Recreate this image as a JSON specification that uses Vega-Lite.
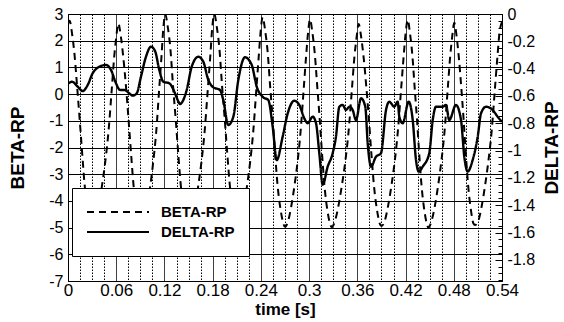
{
  "$schema": "https://vega.github.io/schema/vega-lite/v6.json",
  "width": 434,
  "height": 267,
  "autosize": "none",
  "padding": {"left": 68, "top": 14, "right": 62, "bottom": 41},
  "background": "white",
  "config": {
    "font": "Liberation Sans",
    "view": {"stroke": "black", "strokeWidth": 1},
    "axis": {"domainColor": "black", "labelColor": "black", "titleColor": "black", "labelFont": "Liberation Sans", "titleFont": "Liberation Sans"}
  },
  "datasets": {
    "beta": [
      {"t": 0, "v": 2.65}, {"t": 0.002, "v": 2.75},
      {"t": 0.0051, "v": 2.25}, {"t": 0.0082, "v": 1.45}, {"t": 0.0113, "v": 0.3}, {"t": 0.0144, "v": -0.9}, {"t": 0.0176, "v": -2.2}, {"t": 0.0207, "v": -3.4}, {"t": 0.0248, "v": -4.4}, {"t": 0.0279, "v": -4.85}, {"t": 0.030, "v": -5.0},
      {"t": 0.0341, "v": -4.75}, {"t": 0.0382, "v": -4.2}, {"t": 0.0422, "v": -3.45}, {"t": 0.0463, "v": -2.55}, {"t": 0.0504, "v": -1.4}, {"t": 0.0545, "v": 0.2}, {"t": 0.0575, "v": 1.4}, {"t": 0.0601, "v": 2.15}, {"t": 0.0626, "v": 2.65},
      {"t": 0.0658, "v": 2.15}, {"t": 0.0689, "v": 1.35}, {"t": 0.0721, "v": 0.3}, {"t": 0.0752, "v": -0.9}, {"t": 0.0784, "v": -2.2}, {"t": 0.0815, "v": -3.4}, {"t": 0.0857, "v": -4.4}, {"t": 0.0889, "v": -4.85}, {"t": 0.091, "v": -5.0},
      {"t": 0.0948, "v": -4.75}, {"t": 0.0985, "v": -4.2}, {"t": 0.1023, "v": -3.45}, {"t": 0.106, "v": -2.55}, {"t": 0.1098, "v": -1.4}, {"t": 0.1135, "v": 0.2}, {"t": 0.1163, "v": 1.4}, {"t": 0.1187, "v": 2.5}, {"t": 0.121, "v": 3.0},
      {"t": 0.1242, "v": 2.5}, {"t": 0.1274, "v": 1.7}, {"t": 0.1307, "v": 0.3}, {"t": 0.1339, "v": -0.9}, {"t": 0.1371, "v": -2.2}, {"t": 0.1403, "v": -3.4}, {"t": 0.1446, "v": -4.4}, {"t": 0.1479, "v": -4.85}, {"t": 0.150, "v": -5.0},
      {"t": 0.154, "v": -4.75}, {"t": 0.158, "v": -4.2}, {"t": 0.162, "v": -3.45}, {"t": 0.166, "v": -2.55}, {"t": 0.170, "v": -1.4}, {"t": 0.174, "v": 0.2}, {"t": 0.177, "v": 1.4}, {"t": 0.1795, "v": 2.5}, {"t": 0.182, "v": 3.0},
      {"t": 0.1852, "v": 2.5}, {"t": 0.1884, "v": 1.7}, {"t": 0.1917, "v": 0.3}, {"t": 0.1949, "v": -0.9}, {"t": 0.1981, "v": -2.2}, {"t": 0.2013, "v": -3.4}, {"t": 0.2056, "v": -4.4}, {"t": 0.2089, "v": -4.85}, {"t": 0.211, "v": -5.0},
      {"t": 0.2149, "v": -4.75}, {"t": 0.2188, "v": -4.2}, {"t": 0.2227, "v": -3.45}, {"t": 0.2266, "v": -2.55}, {"t": 0.2305, "v": -1.4}, {"t": 0.2344, "v": 0.2}, {"t": 0.2373, "v": 1.4}, {"t": 0.2398, "v": 2.38}, {"t": 0.2422, "v": 2.88},
      {"t": 0.2453, "v": 2.38}, {"t": 0.2484, "v": 1.58}, {"t": 0.2515, "v": 0.3}, {"t": 0.2546, "v": -0.9}, {"t": 0.2576, "v": -2.2}, {"t": 0.2607, "v": -3.4}, {"t": 0.2649, "v": -4.4}, {"t": 0.2679, "v": -4.85}, {"t": 0.270, "v": -4.97},
      {"t": 0.2739, "v": -4.75}, {"t": 0.2778, "v": -4.2}, {"t": 0.2817, "v": -3.45}, {"t": 0.2856, "v": -2.55}, {"t": 0.2894, "v": -1.4}, {"t": 0.2933, "v": 0.2}, {"t": 0.2962, "v": 1.4}, {"t": 0.2987, "v": 2.3}, {"t": 0.3011, "v": 2.8},
      {"t": 0.3041, "v": 2.3}, {"t": 0.3071, "v": 1.5}, {"t": 0.3101, "v": 0.3}, {"t": 0.3131, "v": -0.9}, {"t": 0.316, "v": -2.2}, {"t": 0.319, "v": -3.4}, {"t": 0.323, "v": -4.4}, {"t": 0.326, "v": -4.85}, {"t": 0.328, "v": -4.98},
      {"t": 0.3322, "v": -4.75}, {"t": 0.3364, "v": -4.2}, {"t": 0.3406, "v": -3.45}, {"t": 0.3449, "v": -2.55}, {"t": 0.3491, "v": -1.4}, {"t": 0.3533, "v": 0.2}, {"t": 0.3564, "v": 1.4}, {"t": 0.3591, "v": 2.13}, {"t": 0.3617, "v": 2.63},
      {"t": 0.3648, "v": 2.13}, {"t": 0.368, "v": 1.33}, {"t": 0.3711, "v": 0.3}, {"t": 0.3743, "v": -0.9}, {"t": 0.3774, "v": -2.2}, {"t": 0.3806, "v": -3.4}, {"t": 0.3848, "v": -4.4}, {"t": 0.3879, "v": -4.85}, {"t": 0.390, "v": -4.94},
      {"t": 0.3941, "v": -4.75}, {"t": 0.3982, "v": -4.2}, {"t": 0.4023, "v": -3.45}, {"t": 0.4064, "v": -2.55}, {"t": 0.4104, "v": -1.4}, {"t": 0.4145, "v": 0.2}, {"t": 0.4176, "v": 1.4}, {"t": 0.4201, "v": 2.28}, {"t": 0.4227, "v": 2.78},
      {"t": 0.4255, "v": 2.28}, {"t": 0.4284, "v": 1.48}, {"t": 0.4312, "v": 0.3}, {"t": 0.4341, "v": -0.9}, {"t": 0.4369, "v": -2.2}, {"t": 0.4398, "v": -3.4}, {"t": 0.4436, "v": -4.4}, {"t": 0.4464, "v": -4.85}, {"t": 0.4483, "v": -5.0},
      {"t": 0.4523, "v": -4.75}, {"t": 0.4564, "v": -4.2}, {"t": 0.4604, "v": -3.45}, {"t": 0.4644, "v": -2.55}, {"t": 0.4685, "v": -1.4}, {"t": 0.4725, "v": 0.2}, {"t": 0.4755, "v": 1.4}, {"t": 0.4781, "v": 2.17}, {"t": 0.4806, "v": 2.67},
      {"t": 0.4835, "v": 2.17}, {"t": 0.4863, "v": 1.37}, {"t": 0.4892, "v": 0.3}, {"t": 0.4921, "v": -0.9}, {"t": 0.4949, "v": -2.2}, {"t": 0.4978, "v": -3.4}, {"t": 0.5016, "v": -4.4}, {"t": 0.5045, "v": -4.85}, {"t": 0.5064, "v": -4.9},
      {"t": 0.5105, "v": -4.75}, {"t": 0.5147, "v": -4.2}, {"t": 0.5188, "v": -3.45}, {"t": 0.5229, "v": -2.55}, {"t": 0.5271, "v": -1.4}, {"t": 0.5312, "v": 0.2}, {"t": 0.5343, "v": 1.4}, {"t": 0.5369, "v": 2.3}, {"t": 0.54, "v": 2.7}
    ],
    "delta": [
      {"t": 0, "v": -0.51}, {"t": 0.005, "v": -0.496}, {"t": 0.0121, "v": -0.532}, {"t": 0.0183, "v": -0.564}, {"t": 0.0245, "v": -0.52},
      {"t": 0.0307, "v": -0.434}, {"t": 0.0389, "v": -0.386}, {"t": 0.0473, "v": -0.373}, {"t": 0.0535, "v": -0.41}, {"t": 0.0597, "v": -0.507},
      {"t": 0.0647, "v": -0.556}, {"t": 0.070, "v": -0.556}, {"t": 0.0763, "v": -0.581}, {"t": 0.0805, "v": -0.598}, {"t": 0.0855, "v": -0.581},
      {"t": 0.0908, "v": -0.459}, {"t": 0.097, "v": -0.313}, {"t": 0.1033, "v": -0.239}, {"t": 0.1086, "v": -0.276}, {"t": 0.1136, "v": -0.41},
      {"t": 0.1186, "v": -0.496}, {"t": 0.126, "v": -0.507}, {"t": 0.1323, "v": -0.569}, {"t": 0.1365, "v": -0.63}, {"t": 0.1393, "v": -0.659},
      {"t": 0.1477, "v": -0.556}, {"t": 0.1539, "v": -0.386}, {"t": 0.1621, "v": -0.313}, {"t": 0.1683, "v": -0.349}, {"t": 0.1746, "v": -0.483},
      {"t": 0.1808, "v": -0.537}, {"t": 0.1891, "v": -0.556}, {"t": 0.1932, "v": -0.63}, {"t": 0.1994, "v": -0.813}, {"t": 0.2057, "v": -0.752},
      {"t": 0.2119, "v": -0.483}, {"t": 0.2202, "v": -0.317}, {"t": 0.2286, "v": -0.373}, {"t": 0.2348, "v": -0.532}, {"t": 0.243, "v": -0.61},
      {"t": 0.2492, "v": -0.63}, {"t": 0.2547, "v": -0.825}, {"t": 0.2597, "v": -1.07}, {"t": 0.2671, "v": -0.898}, {"t": 0.2734, "v": -0.727},
      {"t": 0.2816, "v": -0.635}, {"t": 0.2878, "v": -0.666}, {"t": 0.294, "v": -0.764}, {"t": 0.2982, "v": -0.8}, {"t": 0.3045, "v": -0.752},
      {"t": 0.3086, "v": -0.8}, {"t": 0.3127, "v": -1.02}, {"t": 0.3169, "v": -1.25}, {"t": 0.3231, "v": -1.118}, {"t": 0.3293, "v": -1.02},
      {"t": 0.3334, "v": -0.898}, {"t": 0.3376, "v": -0.679}, {"t": 0.3418, "v": -0.666}, {"t": 0.3459, "v": -0.703}, {"t": 0.35, "v": -0.679},
      {"t": 0.3542, "v": -0.703}, {"t": 0.3583, "v": -0.776}, {"t": 0.3646, "v": -0.617}, {"t": 0.3699, "v": -0.679}, {"t": 0.3729, "v": -0.947},
      {"t": 0.377, "v": -1.118}, {"t": 0.3832, "v": -1.045}, {"t": 0.3894, "v": -1.02}, {"t": 0.3957, "v": -0.703}, {"t": 0.3998, "v": -0.642},
      {"t": 0.406, "v": -0.679}, {"t": 0.4102, "v": -0.642}, {"t": 0.4122, "v": -0.752}, {"t": 0.4164, "v": -0.8}, {"t": 0.4239, "v": -0.642},
      {"t": 0.4289, "v": -0.776}, {"t": 0.433, "v": -1.069}, {"t": 0.4364, "v": -1.154}, {"t": 0.4413, "v": -1.118}, {"t": 0.4495, "v": -1.02},
      {"t": 0.4538, "v": -0.776}, {"t": 0.4579, "v": -0.679}, {"t": 0.4662, "v": -0.679}, {"t": 0.4703, "v": -0.666}, {"t": 0.4744, "v": -0.776},
      {"t": 0.4827, "v": -0.666}, {"t": 0.489, "v": -0.776}, {"t": 0.4931, "v": -1.045}, {"t": 0.4973, "v": -1.154}, {"t": 0.5035, "v": -1.069},
      {"t": 0.5098, "v": -0.898}, {"t": 0.5139, "v": -0.727}, {"t": 0.5201, "v": -0.679}, {"t": 0.5284, "v": -0.703}, {"t": 0.5346, "v": -0.752},
      {"t": 0.54, "v": -0.79}
    ]
  },
  "encoding": {
    "x": {
      "field": "t",
      "type": "quantitative",
      "scale": {"domain": [0, 0.54], "nice": false, "zero": false},
      "axis": {
        "title": "time [s]",
        "values": [0, 0.015, 0.03, 0.045, 0.06, 0.075, 0.09, 0.105, 0.12, 0.135, 0.15, 0.165, 0.18, 0.195, 0.21, 0.225, 0.24, 0.255, 0.27, 0.285, 0.3, 0.315, 0.33, 0.345, 0.36, 0.375, 0.39, 0.405, 0.42, 0.435, 0.45, 0.465, 0.48, 0.495, 0.51, 0.525, 0.54],
        "format": "~g",
        "labelExpr": "round(datum.value * 1000) % 60 === 0 ? datum.label : ''",
        "labelFontSize": 17,
        "labelFlush": false,
        "labelOverlap": false,
        "labelPadding": 1,
        "ticks": false,
        "grid": true,
        "gridColor": "black",
        "gridOpacity": 1,
        "gridWidth": 1,
        "gridDash": {"condition": {"test": "round(datum.value * 1000) % 60 === 0", "value": [1, 0]}, "value": [1.5, 1.5]},
        "titleFontSize": 17,
        "titleFontWeight": "bold",
        "titlePadding": 3
      }
    }
  },
  "layer": [
    {
      "data": {"name": "beta"},
      "mark": {"type": "line", "interpolate": "monotone", "color": "black", "strokeWidth": 2, "clip": true},
      "encoding": {
        "y": {
          "field": "v",
          "type": "quantitative",
          "scale": {"domain": [-7, 3], "nice": false, "zero": false},
          "axis": {
            "orient": "left",
            "title": "BETA-RP",
            "values": [-7, -6, -5, -4, -3, -2, -1, 0, 1, 2, 3],
            "labelExpr": "'' + datum.value",
            "labelFontSize": 16,
            "labelPadding": 5,
            "ticks": false,
            "grid": true,
            "gridColor": "black",
            "gridOpacity": 1,
            "gridWidth": 1,
            "titleFontSize": 19,
            "titleFontWeight": "bold",
            "titlePadding": 21
          }
        },
        "strokeDash": {
          "datum": "BETA-RP",
          "type": "nominal",
          "scale": {"domain": ["BETA-RP", "DELTA-RP"], "range": [[7, 5], [1, 0]]},
          "legend": {
            "orient": "none",
            "legendX": 4,
            "legendY": 174,
            "title": null,
            "fillColor": "white",
            "strokeColor": "black",
            "padding": 14,
            "symbolType": "stroke",
            "symbolSize": 3844,
            "symbolStrokeWidth": 2,
            "symbolStrokeColor": "black",
            "labelFont": "Liberation Sans",
            "labelFontSize": 15,
            "labelFontWeight": "bold",
            "labelColor": "black",
            "labelOffset": 11,
            "clipHeight": 20,
            "rowPadding": -2.6
          }
        }
      }
    },
    {
      "data": {"name": "delta"},
      "mark": {"type": "line", "interpolate": "monotone", "color": "black", "strokeWidth": 2.4, "clip": true},
      "encoding": {
        "y": {
          "field": "v",
          "type": "quantitative",
          "scale": {"domain": [-1.955, 0], "nice": false, "zero": false},
          "axis": {
            "orient": "right",
            "title": "DELTA-RP",
            "values": [0, -0.05, -0.1, -0.15, -0.2, -0.25, -0.3, -0.35, -0.4, -0.45, -0.5, -0.55, -0.6, -0.65, -0.7, -0.75, -0.8, -0.85, -0.9, -0.95, -1, -1.05, -1.1, -1.15, -1.2, -1.25, -1.3, -1.35, -1.4, -1.45, -1.5, -1.55, -1.6, -1.65, -1.7, -1.75, -1.8, -1.85, -1.9, -1.95],
            "labelExpr": "abs(round(datum.value * 100)) % 20 === 0 ? '' + datum.value : ''",
            "labelFontSize": 16,
            "labelOverlap": false,
            "labelPadding": 12,
            "grid": false,
            "ticks": true,
            "tickColor": "black",
            "tickSize": {"condition": {"test": "abs(round(datum.value * 100)) % 20 === 0", "value": -7}, "value": -4},
            "titleFontSize": 19,
            "titleFontWeight": "bold",
            "titleAngle": 270,
            "titleBaseline": "top",
            "titlePadding": 8
          }
        },
        "strokeDash": {"datum": "DELTA-RP", "type": "nominal"}
      }
    }
  ],
  "resolve": {"scale": {"y": "independent"}}
}
